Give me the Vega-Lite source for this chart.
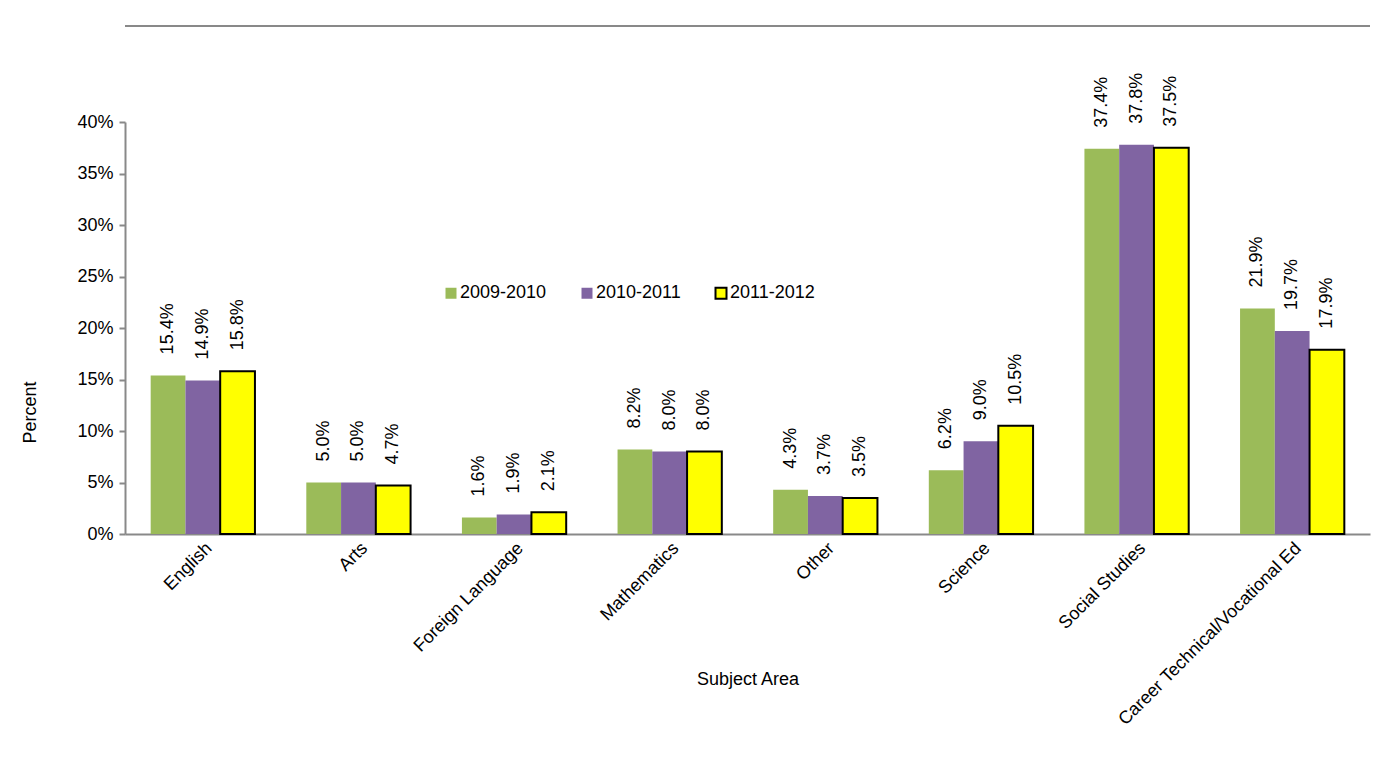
{
  "$schema": "https://vega.github.io/schema/vega-lite/v6.json",
  "autosize": "none",
  "width": 1245,
  "height": 412,
  "padding": {"left": 125, "top": 122, "right": 14, "bottom": 227},
  "background": "white",
  "config": {
    "font": "Liberation Sans",
    "view": {"stroke": null},
    "axis": {"labelFont": "Liberation Sans", "titleFont": "Liberation Sans", "labelColor": "#000", "titleColor": "#000", "labelFontSize": 18, "titleFontSize": 18, "titleFontWeight": "normal", "grid": false, "domainColor": "#898989", "domainWidth": 2, "tickColor": "#898989", "tickWidth": 2, "labelLimit": 0},
    "legend": {"labelFont": "Liberation Sans", "labelFontSize": 18, "labelColor": "#000"}
  },
  "data": {"values": [
    {"subject": "English", "year": "2009-2010", "value": 0.154},
    {"subject": "English", "year": "2010-2011", "value": 0.149},
    {"subject": "English", "year": "2011-2012", "value": 0.158},
    {"subject": "Arts", "year": "2009-2010", "value": 0.050},
    {"subject": "Arts", "year": "2010-2011", "value": 0.050},
    {"subject": "Arts", "year": "2011-2012", "value": 0.047},
    {"subject": "Foreign Language", "year": "2009-2010", "value": 0.016},
    {"subject": "Foreign Language", "year": "2010-2011", "value": 0.019},
    {"subject": "Foreign Language", "year": "2011-2012", "value": 0.021},
    {"subject": "Mathematics", "year": "2009-2010", "value": 0.082},
    {"subject": "Mathematics", "year": "2010-2011", "value": 0.080},
    {"subject": "Mathematics", "year": "2011-2012", "value": 0.080},
    {"subject": "Other", "year": "2009-2010", "value": 0.043},
    {"subject": "Other", "year": "2010-2011", "value": 0.037},
    {"subject": "Other", "year": "2011-2012", "value": 0.035},
    {"subject": "Science", "year": "2009-2010", "value": 0.062},
    {"subject": "Science", "year": "2010-2011", "value": 0.090},
    {"subject": "Science", "year": "2011-2012", "value": 0.105},
    {"subject": "Social Studies", "year": "2009-2010", "value": 0.374},
    {"subject": "Social Studies", "year": "2010-2011", "value": 0.378},
    {"subject": "Social Studies", "year": "2011-2012", "value": 0.375},
    {"subject": "Career Technical/Vocational Ed", "year": "2009-2010", "value": 0.219},
    {"subject": "Career Technical/Vocational Ed", "year": "2010-2011", "value": 0.197},
    {"subject": "Career Technical/Vocational Ed", "year": "2011-2012", "value": 0.179}
  ]},
  "layer": [
    {
      "mark": {"type": "bar", "strokeWidth": 2},
      "encoding": {
        "x": {"field": "subject", "type": "nominal", "sort": null,
          "scale": {"paddingInner": 0.33, "paddingOuter": 0.165},
          "axis": {"title": "Subject Area", "labelAngle": -45, "ticks": false, "labelPadding": 5, "titleY": 145, "titleBaseline": "middle"}},
        "xOffset": {"field": "year", "type": "nominal", "scale": {"paddingInner": 0, "paddingOuter": 0}},
        "y": {"field": "value", "type": "quantitative",
          "scale": {"domain": [0, 0.4], "nice": false},
          "axis": {"title": "Percent", "format": ".0%", "values": [0, 0.05, 0.1, 0.15, 0.2, 0.25, 0.3, 0.35, 0.4], "tickSize": 6, "labelPadding": 6, "titleX": -95, "titleY": 290, "titleBaseline": "middle"}},
        "fill": {"field": "year", "type": "nominal", "title": null,
          "scale": {"range": ["#9BBB59", "#8064A2", "#FFFF00"]},
          "legend": {"orient": "none", "legendX": 317, "legendY": 162, "direction": "horizontal", "columns": 3, "columnPadding": 30, "symbolType": "square", "symbolSize": 121, "symbolStrokeWidth": 2, "labelOffset": 0}},
        "stroke": {"field": "year", "type": "nominal", "title": null,
          "scale": {"range": ["rgba(0,0,0,0)", "rgba(0,0,0,0)", "#000000"]}}
      }
    },
    {
      "mark": {"type": "text", "angle": 270, "align": "left", "baseline": "middle", "dx": 21, "fontSize": 18, "font": "Liberation Sans", "color": "#000"},
      "encoding": {
        "x": {"field": "subject", "type": "nominal", "sort": null},
        "xOffset": {"field": "year", "type": "nominal"},
        "y": {"field": "value", "type": "quantitative"},
        "text": {"field": "value", "type": "quantitative", "format": ".1%"}
      }
    },
    {
      "mark": {"type": "rule", "color": "#898989", "strokeWidth": 2},
      "encoding": {"y": {"datum": 0.4932}}
    }
  ]
}
